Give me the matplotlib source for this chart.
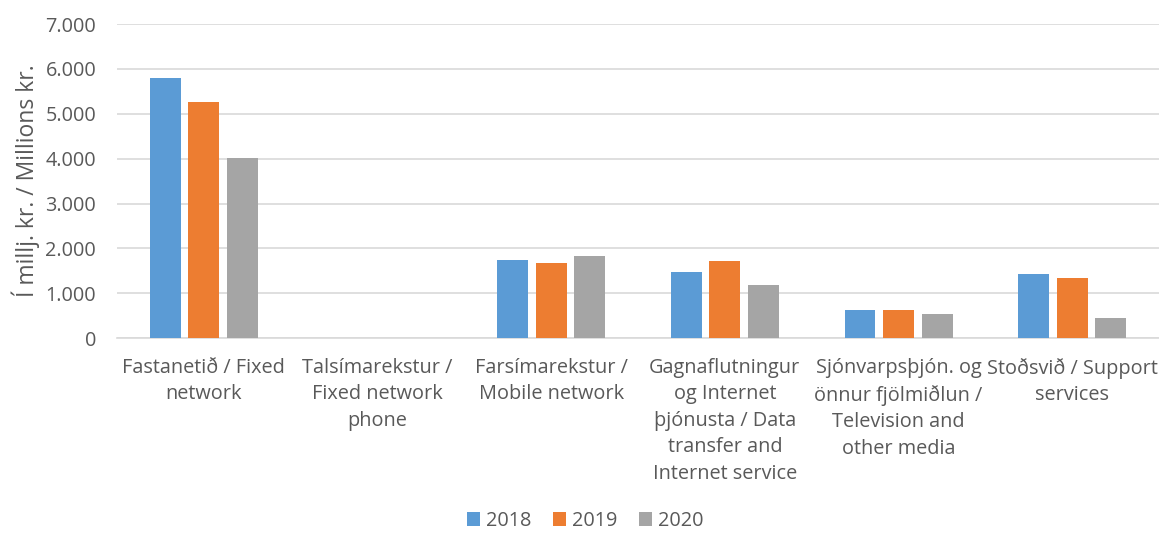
import numpy as np
import matplotlib.pyplot as plt
from matplotlib.ticker import FuncFormatter

# Gögn / data (milljónir kr.)
flokkar = ["Fastanetið / Fixed\nnetwork",
           "Talsímarekstur /\nFixed network\nphone",
           "Farsímarekstur /\nMobile network",
           "Gagnaflutningur\nog Internet\nþjónusta / Data\ntransfer and\nInternet service",
           "Sjónvarpsþjón. og\nönnur fjölmiðlun /\nTelevision and\nother media",
           "Stoðsvið / Support\nservices"]
ar = ["2018", "2019", "2020"]
v2018 = [5800, 0, 1750, 1470, 620, 1435]
v2019 = [5260, 0, 1665, 1725, 635, 1350]
v2020 = [4020, 0, 1840, 1190, 545, 455]
litir = ["#5B9BD5", "#ED7D31", "#A5A5A5"]
TEXTI = "#595959"

plt.rcParams['font.family'] = ['Open Sans', 'DejaVu Sans']

fig = plt.figure(figsize=(11.59, 5.35), dpi=100)
ax = fig.add_axes([0.101, 0.368, 0.899, 0.587])

x = np.arange(len(flokkar))
breidd = 0.178
bil = 0.222
for i, (vals, lit, lab) in enumerate(zip([v2018, v2019, v2020], litir, ar)):
    ax.bar(x + (i - 1) * bil, vals, breidd, color=lit, label=lab, zorder=3)

ax.set_xlim(-0.5, len(flokkar) - 0.5)
ax.set_ylim(0, 7000)
ax.set_yticks(range(0, 7001, 1000))
ax.yaxis.set_major_formatter(FuncFormatter(lambda v, p: f"{int(v):,}".replace(",", ".")))
ax.grid(axis='y', color='#D9D9D9', linewidth=1.2, zorder=0)
for s in ['top', 'right', 'left']:
    ax.spines[s].set_visible(False)
ax.spines['bottom'].set_color('#D9D9D9')
ax.spines['bottom'].set_linewidth(1.2)
ax.tick_params(axis='both', length=0, colors=TEXTI, labelsize=14.3)
ax.tick_params(axis='y', pad=15)
ax.tick_params(axis='x', pad=14)
ax.set_xticks(x)
ax.set_xticklabels(flokkar, linespacing=1.44, va='top')
ax.set_ylabel("Í millj. kr. / Millions kr.", color=TEXTI, fontsize=16.5, labelpad=4)

fig.legend(loc='lower center', bbox_to_anchor=(0.505, -0.026), ncol=3, frameon=False,
           fontsize=14.3, labelcolor=TEXTI, handlelength=0.65, handleheight=0.65,
           handletextpad=0.3, columnspacing=1.1)

fig.savefig("out.png", dpi=100)
